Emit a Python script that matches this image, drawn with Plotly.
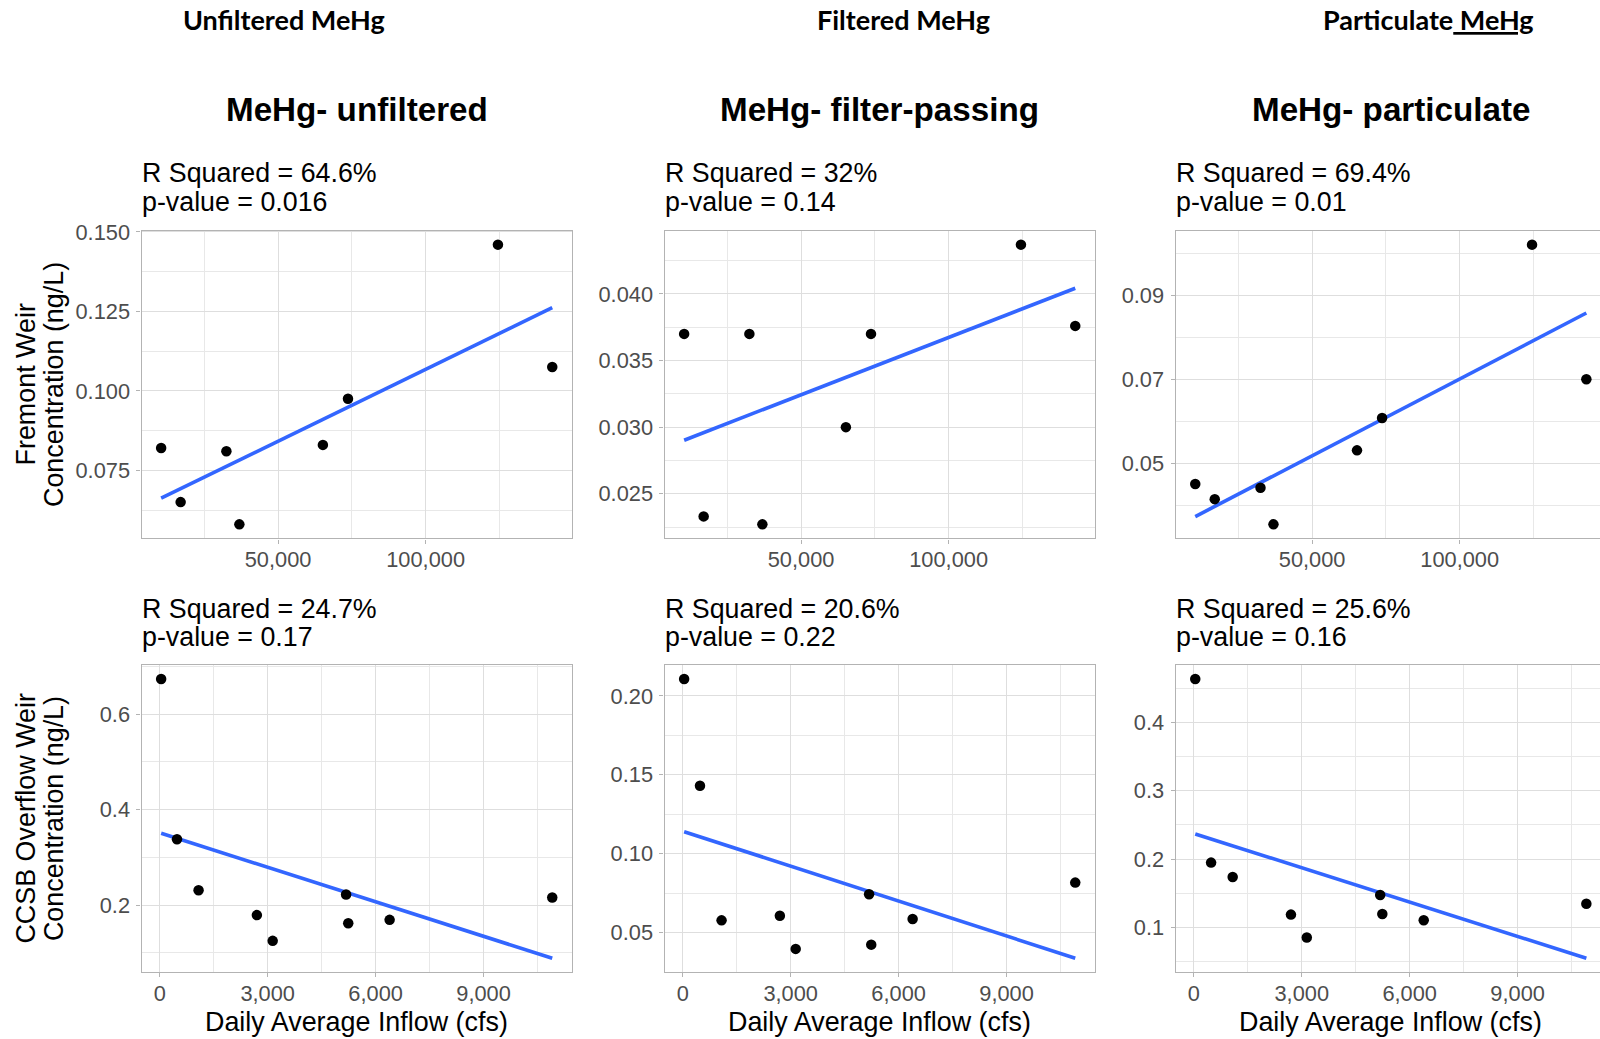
import numpy as np
import plotly.graph_objects as go

W, H = 1600, 1039

# Fremont Weir samples: daily average inflow (cfs) and MeHg (ng/L)
fremont_inflow = [10400, 17000, 32500, 36900, 65200, 73700, 124500, 142900]
fremont_unfiltered = [0.0820, 0.0650, 0.0810, 0.0580, 0.0830, 0.0975, 0.1460, 0.1075]
fremont_filtered = [0.0370, 0.0233, 0.0370, 0.0227, 0.0300, 0.0370, 0.0437, 0.0376]
fremont_particulate = [0.0451, 0.0415, 0.0442, 0.0355, 0.0531, 0.0608, 0.1020, 0.0700]

# CCSB Overflow Weir samples
ccsb_inflow = [40, 480, 1080, 2700, 3140, 5180, 5240, 6390, 10910]
ccsb_unfiltered = [0.674, 0.338, 0.231, 0.179, 0.125, 0.222, 0.162, 0.169, 0.216]
ccsb_filtered = [0.2107, 0.1431, 0.0578, 0.0607, 0.0397, 0.0743, 0.0424, 0.0586, 0.0817]
ccsb_particulate = [0.4634, 0.1949, 0.1740, 0.1189, 0.0855, 0.1475, 0.1199, 0.1107, 0.1348]

# Regression summaries printed above each panel
r_squared_labels = ["64.6%", "32%", "69.4%", "24.7%", "20.6%", "25.6%"]
p_value_labels = ["0.016", "0.14", "0.01", "0.17", "0.22", "0.16"]

column_headers = ["Unfiltered MeHg", "Filtered MeHg", "Particulate<u> MeHg</u>"]
panel_titles = ["MeHg- unfiltered", "MeHg- filter-passing", "MeHg- particulate"]
row_y_titles = [("Fremont Weir", "Concentration (ng/L)"),
                ("CCSB Overflow Weir", "Concentration (ng/L)")]
x_title = "Daily Average Inflow (cfs)"

panel_data = [
    (fremont_inflow, fremont_unfiltered), (fremont_inflow, fremont_filtered),
    (fremont_inflow, fremont_particulate),
    (ccsb_inflow, ccsb_unfiltered), (ccsb_inflow, ccsb_filtered),
    (ccsb_inflow, ccsb_particulate),
]
# tick spacing / first tick / label format per panel
x_ticks = [(50000, ",d")] * 3 + [(3000, ",d")] * 3
y_ticks = [(0.025, 0.0, ".3f"), (0.005, 0.0, ".3f"), (0.02, 0.05, ".2f"),
           (0.2, 0.0, ".1f"), (0.05, 0.0, ".2f"), (0.1, 0.0, ".1f")]

# layout geometry (pixels)
col_left = [141.6, 664.6, 1175.7]
panel_w = 430.2
row_top = [222.0, 661.0]
row_bottom = [533.0, 971.5]

BORDER = "#B3B3B3"
GRID = "#DEDEDE"
MINOR_GRID = "#E8E8E8"
TICK_TXT = "#4D4D4D"
SANS = "Liberation Sans, Arial, sans-serif"


def fx(px):
    return px / W


def fy(py):
    return 1 - py / H


def expand(lo, hi, f=0.05):
    d = hi - lo
    return [lo - f * d, hi + f * d]


fig = go.Figure()
annotations = []

for i, (xs, ys) in enumerate(panel_data):
    row, col = divmod(i, 3)
    k = i + 1
    xs = np.asarray(xs, float)
    ys = np.asarray(ys, float)
    slope, intercept = np.polyfit(xs, ys, 1)
    line_x = np.array([xs.min(), xs.max()])
    line_y = intercept + slope * line_x

    xname = "x" if k == 1 else f"x{k}"
    yname = "y" if k == 1 else f"y{k}"

    fig.add_trace(go.Scatter(x=line_x, y=line_y, mode="lines",
                             line=dict(color="#3366FF", width=3.6),
                             xaxis=xname, yaxis=yname, hoverinfo="skip"))
    fig.add_trace(go.Scatter(x=xs, y=ys, mode="markers",
                             marker=dict(color="black", size=10.5),
                             xaxis=xname, yaxis=yname))

    left = col_left[col]
    right = left + panel_w
    xr = expand(xs.min(), xs.max())
    if right > W:  # panel runs past the page edge
        frac = (W - left) / panel_w
        xr = [xr[0], xr[0] + frac * (xr[1] - xr[0])]
        right = W
    yr = expand(min(ys.min(), line_y.min()), max(ys.max(), line_y.max()))
    top = row_top[row]
    bottom = row_bottom[row]

    xdt, xfmt = x_ticks[i]
    ydt, y0, yfmt = y_ticks[i]
    common = dict(showline=True, linecolor=BORDER, linewidth=1.4,
                  ticks="outside", ticklen=4, tickwidth=1.2, tickcolor=BORDER,
                  showgrid=True, gridcolor=GRID, gridwidth=1.1,
                  zeroline=False,
                  tickfont=dict(family=SANS, size=21.8, color=TICK_TXT))
    fig.update_layout(**{
        ("xaxis" if k == 1 else f"xaxis{k}"): dict(
            common, domain=[fx(left), fx(right)], range=xr, anchor=yname,
            tick0=0, dtick=xdt, tickformat=xfmt, mirror=True,
            ticklabelstandoff=-3,
            minor=dict(dtick=xdt / 2, showgrid=True, gridcolor=MINOR_GRID,
                       gridwidth=0.7, ticks="")),
        ("yaxis" if k == 1 else f"yaxis{k}"): dict(
            common, domain=[fy(bottom), fy(top)], range=yr, anchor=xname,
            tick0=y0, dtick=ydt, tickformat=yfmt,
            mirror=(right < W), ticklabelstandoff=2,
            minor=dict(dtick=ydt / 2, showgrid=True, gridcolor=MINOR_GRID,
                       gridwidth=0.7, ticks="")),
    })

    # regression summary lines
    first = 164.2 if row == 0 else 604.2
    for j, txt in enumerate([f"R Squared = {r_squared_labels[i]}",
                             f"p-value = {p_value_labels[i]}"]):
        annotations.append(dict(
            text=txt, x=fx(left - 2), y=fy(first + 28.4 * j),
            xref="paper", yref="paper",
            xanchor="left", yanchor="middle", showarrow=False,
            font=dict(family=SANS, size=26.8, color="black")))

    if row == 0:
        annotations.append(dict(
            text=f"<b>{panel_titles[col]}</b>", x=fx(left + panel_w / 2),
            y=fy(100.0), xref="paper", yref="paper", xanchor="center",
            yanchor="middle", showarrow=False,
            font=dict(family=SANS, size=33.2, color="black")))
    else:
        annotations.append(dict(
            text=x_title, x=fx(left + panel_w / 2), y=fy(1021.5),
            xref="paper", yref="paper", xanchor="center", yanchor="middle",
            showarrow=False, font=dict(family=SANS, size=26.9, color="black")))

# column headers
header_x = [284, 904, 1428]
for col, txt in enumerate(column_headers):
    annotations.append(dict(
        text=f"<b>{txt}</b>", x=fx(header_x[col]), y=fy(8.8),
        xref="paper", yref="paper", xanchor="center", yanchor="middle",
        showarrow=False, font=dict(family="Lato, sans-serif", size=27, color="black")))

# rotated y-axis titles, one annotation per line
for row, lines in enumerate(row_y_titles):
    yc = (row_top[row] + row_bottom[row]) / 2
    for j, txt in enumerate(lines):
        annotations.append(dict(
            text=txt, x=fx([26, 53.5][j]), y=fy(yc), xref="paper", yref="paper",
            xanchor="center", yanchor="middle", textangle=-90, showarrow=False,
            font=dict(family=SANS, size=26.9, color="black")))

fig.update_layout(
    width=W, height=H, margin=dict(l=0, r=0, t=0, b=0),
    paper_bgcolor="white", plot_bgcolor="white", showlegend=False,
    annotations=annotations,
)

fig.write_html("out.html")
